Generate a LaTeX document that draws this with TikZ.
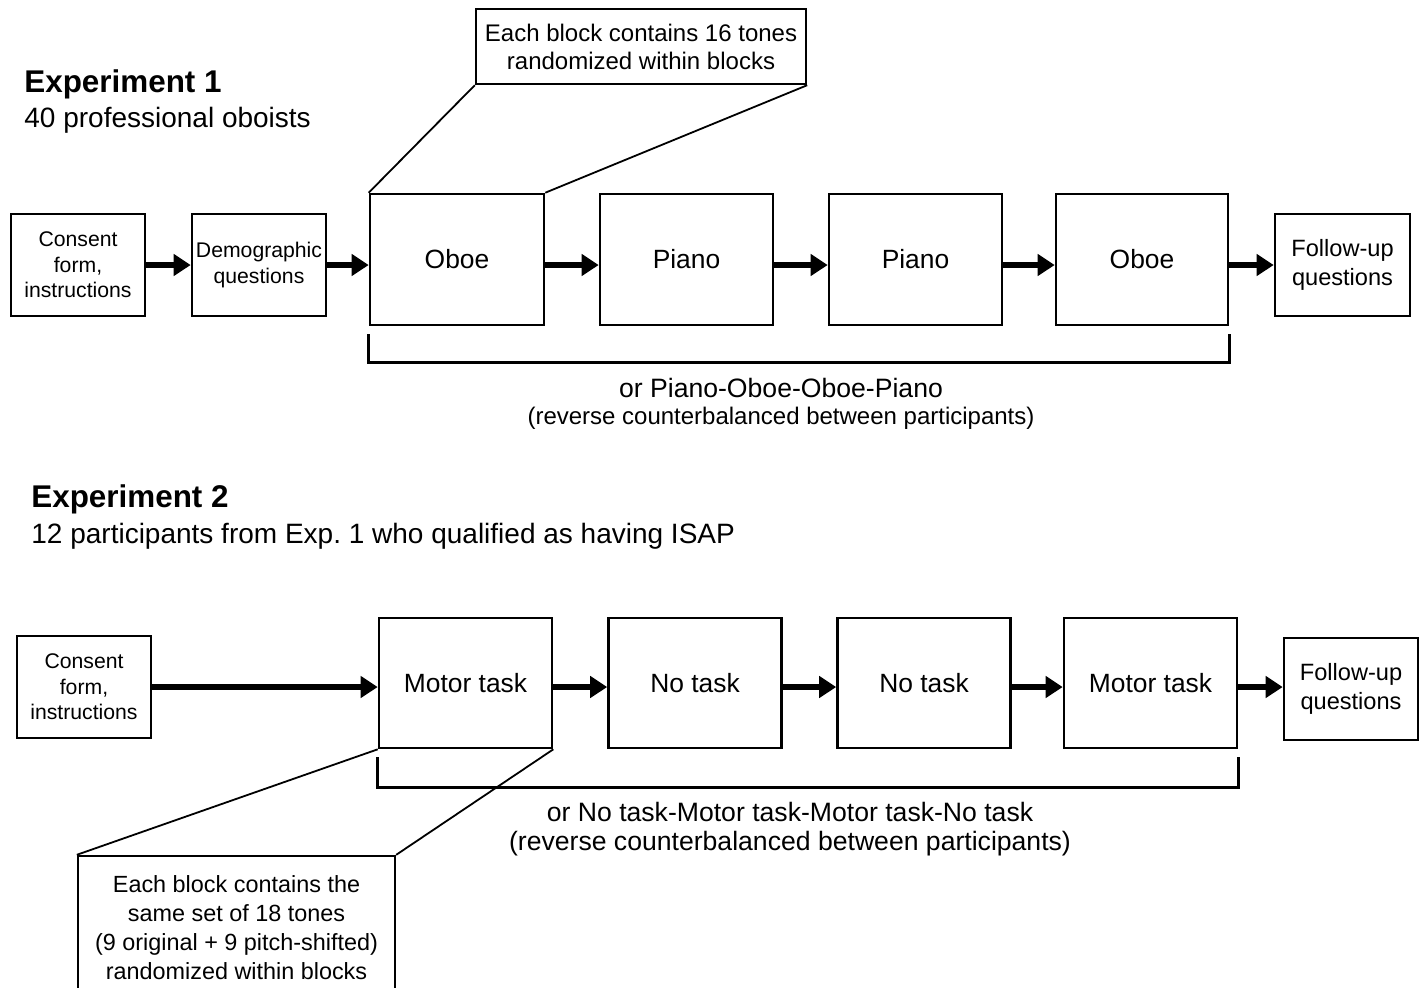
\documentclass[tikz,border=0pt]{standalone}
\usepackage{fontspec}
\setmainfont{Liberation Sans}
\usetikzlibrary{arrows.meta}
\begin{document}
\begin{tikzpicture}[x=0.5pt,y=-0.5pt,
  box/.style={draw, line width=1.3pt, inner sep=0pt, align=center},
  smallbox/.style={box, minimum width=67pt, minimum height=51pt, font=\fontsize{10.6pt}{12.75pt}\selectfont},
  fubox/.style={box, minimum width=67.5pt, minimum height=51pt, font=\fontsize{11.8pt}{14.5pt}\selectfont},
  blockbox/.style={box, minimum width=86.5pt, minimum height=65.5pt, font=\fontsize{13.2pt}{16pt}\selectfont},
  notebox/.style={box, line width=1.2pt, font=\fontsize{12pt}{14pt}\selectfont},
  arr/.style={line width=3pt, -{Triangle[length=8.5pt,width=10.5pt]}},
  brk/.style={line width=1.5pt},
  lead/.style={line width=0.9pt},
  title/.style={anchor=base west, inner sep=0pt, font=\bfseries\fontsize{15.7pt}{18pt}\selectfont},
  subtitle/.style={anchor=base west, inner sep=0pt, font=\fontsize{14pt}{17pt}\selectfont},
  orline/.style={inner sep=0pt, font=\fontsize{13.3pt}{16pt}\selectfont},
  revline/.style={inner sep=0pt, font=\fontsize{12pt}{14pt}\selectfont}]
\useasboundingbox (0,0) rectangle (1422,987);

% ---------------- Experiment 1 ----------------
\node[title] (t1) at (24,92) {Experiment 1};
\node[subtitle] (s1) at (24,127) {40 professional oboists};

\node[smallbox] (c1) at (78,265) {Consent\\form,\\instructions};
\node[smallbox] (c2) at (259,265) {Demographic\\questions};
\node[blockbox, minimum width=87pt] (b1) at (457,259.5) {Oboe};
\node[blockbox] (b2) at (686.5,259.5) {Piano};
\node[blockbox] (b3) at (915.5,259.5) {Piano};
\node[blockbox, minimum width=86pt] (b4) at (1142,259.5) {Oboe};
\node[fubox] (f1) at (1342.5,265) {Follow-up\\questions};
\node[notebox, minimum width=165pt, minimum height=37.5pt] (n1) at (641,46.5) {Each block contains 16 tones\\randomized within blocks};

\draw[arr] (c1.east) -- (c2.west);
\draw[arr] (c2.east) -- (c2.east -| b1.west);
\draw[arr] (b1.east |- c1.center) -- (b2.west |- c1.center);
\draw[arr] (b2.east |- c1.center) -- (b3.west |- c1.center);
\draw[arr] (b3.east |- c1.center) -- (b4.west |- c1.center);
\draw[arr] (b4.east |- c1.center) -- (f1.west);

\draw[lead] (n1.south west) -- (b1.north west);
\draw[lead] (n1.south east) -- (b1.north east);

\draw[brk] ([yshift=-4pt]b1.south west) -- ++(0,-14pt) -| ([yshift=-4pt]b4.south east);
\node[orline] (o1) at (781,388) {or Piano-Oboe-Oboe-Piano};
\node[revline] (r1) at (781,418) {(reverse counterbalanced between participants)};

% ---------------- Experiment 2 ----------------
\node[title] (t2) at (31,507) {Experiment 2};
\node[subtitle] (s2) at (31,543) {12 participants from Exp.\ 1 who qualified as having ISAP};

\node[smallbox] (d1) at (84,687) {Consent\\form,\\instructions};
\node[blockbox, minimum height=65pt] (m1) at (465.5,683) {Motor task};
\node[blockbox, minimum height=65pt] (m2) at (695,683) {No task};
\node[blockbox, minimum height=65pt] (m3) at (924,683) {No task};
\node[blockbox, minimum height=65pt] (m4) at (1150.5,683) {Motor task};
\node[fubox, minimum width=67pt] (f2) at (1351,689) {Follow-up\\questions};
\node[notebox, minimum width=158.5pt, minimum height=72pt, font=\fontsize{11.7pt}{14.5pt}\selectfont] (n2) at (236.5,928) {Each block contains the\\same set of 18 tones\\(9 original + 9 pitch-shifted)\\randomized within blocks};

\draw[arr] (d1.east) -- (d1.east -| m1.west);
\draw[arr] (m1.east |- d1.center) -- (m2.west |- d1.center);
\draw[arr] (m2.east |- d1.center) -- (m3.west |- d1.center);
\draw[arr] (m3.east |- d1.center) -- (m4.west |- d1.center);
\draw[arr] (m4.east |- d1.center) -- (f2.west |- d1.center);

\draw[lead] (m1.south west) -- (n2.north west);
\draw[lead] (m1.south east) -- (n2.north east);

\draw[brk] ([yshift=-4pt]m1.south west) -- ++(0,-15pt) -| ([yshift=-4pt]m4.south east);
\node[orline] (o2) at (790,812) {or No task-Motor task-Motor task-No task};
\node[revline, font=\fontsize{13.3pt}{16pt}\selectfont] (r2) at (790,844) {(reverse counterbalanced between participants)};
\end{tikzpicture}
\end{document}
